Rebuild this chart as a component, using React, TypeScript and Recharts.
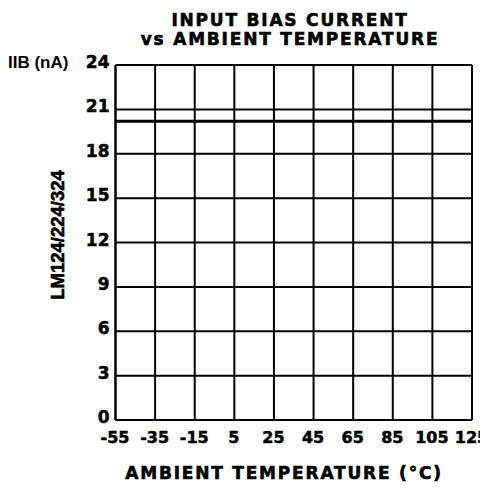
import React from "react";
import { LineChart, Line, XAxis, YAxis, CartesianGrid } from "recharts";

const temperatures = [-55, -35, -15, 5, 25, 45, 65, 85, 105, 125];
const biasCurrent = [20.2, 20.2, 20.2, 20.2, 20.2, 20.2, 20.2, 20.2, 20.2, 20.2];
const yTicks = [0, 3, 6, 9, 12, 15, 18, 21, 24];
const xTicks = [-55, -35, -15, 5, 25, 45, 65, 85, 105, 125];

const titleLines = ["INPUT BIAS CURRENT", "vs AMBIENT TEMPERATURE"];
const xTitle = "AMBIENT TEMPERATURE (°C)";
const yUnit = "IIB (nA)";
const partLabel = "LM124/224/324";

const data = temperatures.map((t, i) => ({ t, v: biasCurrent[i] }));

const W = 480;
const H = 476;
const heavy = "'DejaVu Sans', sans-serif";
const arialish = "'Liberation Sans', sans-serif";

const XTick = (props: any) => {
  const { x, y, payload } = props;
  return (
    <text
      x={x - 0.5}
      y={y}
      dy={13}
      textAnchor="middle"
      fontFamily={heavy}
      fontWeight={700}
      fontSize={16}
      fill="#000"
      stroke="#000"
      strokeWidth={0.5}
    >
      {payload.value}
    </text>
  );
};

const YTick = (props: any) => {
  const { x, y, payload } = props;
  return (
    <text
      x={x}
      y={y}
      dy={3}
      textAnchor="end"
      fontFamily={heavy}
      fontWeight={700}
      fontSize={17}
      fill="#000"
      stroke="#000"
      strokeWidth={0.5}
    >
      {payload.value}
    </text>
  );
};

export default function App() {
  return (
    <div style={{ position: "relative", width: W, height: H }}>
      <LineChart
        width={W}
        height={H}
        data={data}
        margin={{ top: 57, right: 16, bottom: 0, left: 0 }}
        style={{ overflow: "visible" }}
      >
        <CartesianGrid
          stroke="#000"
          strokeWidth={2}
          fill="#fff"
          horizontalValues={yTicks}
          verticalValues={xTicks}
        />
        <XAxis
          dataKey="t"
          type="number"
          domain={[-55, 125]}
          ticks={xTicks}
          interval={0}
          height={64}
          tickLine={false}
          tickSize={4}
          tickMargin={6}
          axisLine={{ stroke: "#000", strokeWidth: 2 }}
          tick={<XTick />}
        />
        <YAxis
          type="number"
          domain={[0, 24]}
          ticks={yTicks}
          interval={0}
          width={107.5}
          tickLine={false}
          tickSize={4}
          tickMargin={2}
          axisLine={{ stroke: "#000", strokeWidth: 2 }}
          tick={<YTick />}
        />
        <Line
          type="linear"
          dataKey="v"
          stroke="#000"
          strokeWidth={3}
          dot={false}
          isAnimationActive={false}
        />
      </LineChart>
      <svg
        width={W}
        height={H}
        style={{ position: "absolute", left: 0, top: 0, pointerEvents: "none" }}
      >
        <text
          x={282}
          y={18}
          textAnchor="middle"
          fontFamily={heavy}
          fontWeight={700}
          fontSize={17}
          letterSpacing={1.8}
          fill="#000"
          stroke="#000"
          strokeWidth={0.6}
        >
          {titleLines[0]}
        </text>
        <text
          x={282}
          y={37}
          textAnchor="middle"
          fontFamily={heavy}
          fontWeight={700}
          fontSize={17}
          letterSpacing={1.8}
          fill="#000"
          stroke="#000"
          strokeWidth={0.6}
        >
          {titleLines[1]}
        </text>
        <text
          x={0}
          y={60}
          textAnchor="start"
          fontFamily={arialish}
          fontWeight={700}
          fontSize={17}
          fill="#000"
        >
          {yUnit}
        </text>
        <text
          x={56}
          y={227}
          transform="rotate(-90 56 227)"
          textAnchor="middle"
          fontFamily={arialish}
          fontWeight={700}
          fontSize={18.5}
          fill="#000"
          stroke="#000"
          strokeWidth={0.6}
        >
          {partLabel}
        </text>
        <text
          x={276}
          y={471}
          textAnchor="middle"
          fontFamily={heavy}
          fontWeight={700}
          fontSize={17}
          letterSpacing={1.8}
          fill="#000"
          stroke="#000"
          strokeWidth={0.6}
        >
          {xTitle}
        </text>
      </svg>
    </div>
  );
}
